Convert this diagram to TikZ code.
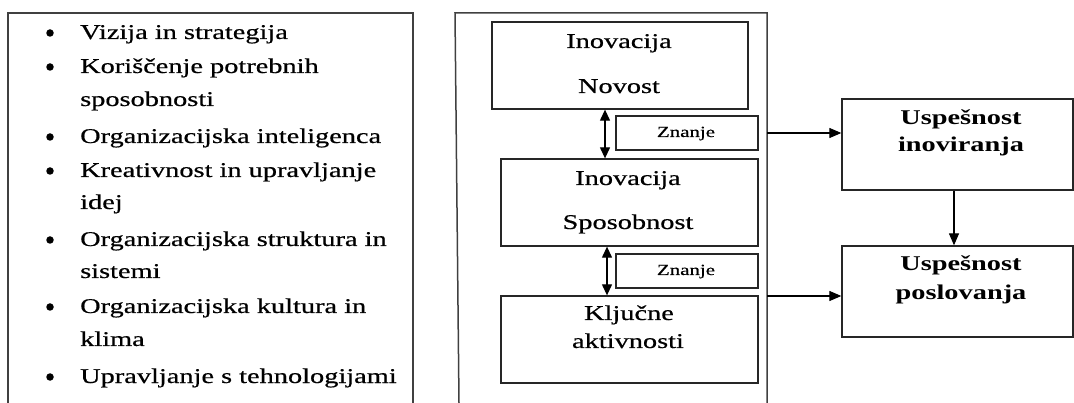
\documentclass[tikz,border=0pt]{standalone}
\usepackage{fontspec}
\setmainfont{Liberation Serif}[FakeStretch=1.35, UprightFeatures={FakeBold=0.6}]
\usetikzlibrary{arrows.meta}
\begin{document}
\begin{tikzpicture}[x=1pt,y=-1pt,
  panel/.style={draw=black!75, line width=1.5pt},
  box/.style={draw=black!85, line width=1.3pt, rectangle, inner sep=0pt},
  txt/.style={anchor=base, inner sep=0pt, font=\fontsize{21}{25}\selectfont},
  item/.style={anchor=base west, inner sep=0pt, font=\fontsize{21}{25}\selectfont},
  small/.style={anchor=base, inner sep=0pt, font=\fontsize{15.5}{18}\selectfont},
  bold/.style={anchor=base, inner sep=0pt, font=\fontsize{21}{25}\selectfont\bfseries},
  arr/.style={line width=1.2pt, -{Triangle[length=12pt,width=10pt]}},
  dbl/.style={line width=1.2pt, {Triangle[length=11pt,width=10pt]}-{Triangle[length=11pt,width=10pt]}},
  dot/.style={circle, fill=black, inner sep=0pt, minimum size=7.5pt}
]
\useasboundingbox (0,0) rectangle (1074,403);

% ---- left panel: list of factors ----
\draw[panel] (8,403) -- (8,13) -- (413,13) -- (413,403);
\foreach \n/\y in {d1/39, d2/73, d3/143, d4/177, d5/246, d6/313, d7/383}
  \node[dot] (\n) at (50,\y-6) {};
\node[item] (l1)  at (80,39)  {Vizija in strategija};
\node[item] (l2)  at (80,73)  {Koriščenje potrebnih};
\node[item] (l2b) at (80,106) {sposobnosti};
\node[item] (l3)  at (80,143) {Organizacijska inteligenca};
\node[item] (l4)  at (80,177) {Kreativnost in upravljanje};
\node[item] (l4b) at (80,209) {idej};
\node[item] (l5)  at (80,246) {Organizacijska struktura in};
\node[item] (l5b) at (80,278) {sistemi};
\node[item] (l6)  at (80,313) {Organizacijska kultura in};
\node[item] (l6b) at (80,346) {klima};
\node[item] (l7)  at (80,383) {Upravljanje s tehnologijami};

% ---- middle panel ----
\draw[panel] (459,403) -- (455,13) -- (767,13) -- (767,403);
\node[box, minimum width=256pt, minimum height=87pt] (b1) at (620,65.5) {};
\node[box, minimum width=142pt, minimum height=34pt] (z1) at (687,133) {};
\node[box, minimum width=257pt, minimum height=87pt] (b2) at (629.5,202.5) {};
\node[box, minimum width=142pt, minimum height=34pt] (z2) at (687,271) {};
\node[box, minimum width=257pt, minimum height=87pt] (b3) at (629.5,339.5) {};

\node[txt] (t1a) at (619,48)  {Inovacija};
\node[txt] (t1b) at (619,93)  {Novost};
\node[small] (tz1) at (686,137) {Znanje};
\node[txt] (t2a) at (628,185) {Inovacija};
\node[txt] (t2b) at (628,229) {Sposobnost};
\node[small] (tz2) at (686,275) {Znanje};
\node[txt] (t3a) at (629,320) {Ključne};
\node[txt] (t3b) at (628,348) {aktivnosti};

\coordinate (ax1) at (605,0);
\coordinate (ax2) at (607,0);
\draw[dbl] (b1.south -| ax1) -- (b2.north -| ax1);
\draw[dbl] (b2.south -| ax2) -- (b3.north -| ax2);

% ---- right side: outcomes ----
\node[box, minimum width=231pt, minimum height=91pt] (ui) at (957.5,144.5) {};
\node[box, minimum width=231pt, minimum height=91pt] (up) at (957.5,291.5) {};
\node[bold] (u1a) at (961,125) {Uspešnost};
\node[bold] (u1b) at (961,152) {inoviranja};
\node[bold] (u2a) at (961,271) {Uspešnost};
\node[bold] (u2b) at (961,300) {poslovanja};

\coordinate (e1) at (767,133);
\coordinate (e2) at (767,296);
\coordinate (ax3) at (954,0);
\draw[arr] (e1) -- (e1 -| ui.west);
\draw[arr] (e2) -- (e2 -| up.west);
\draw[arr] (ui.south -| ax3) -- (up.north -| ax3);
\end{tikzpicture}
\end{document}
